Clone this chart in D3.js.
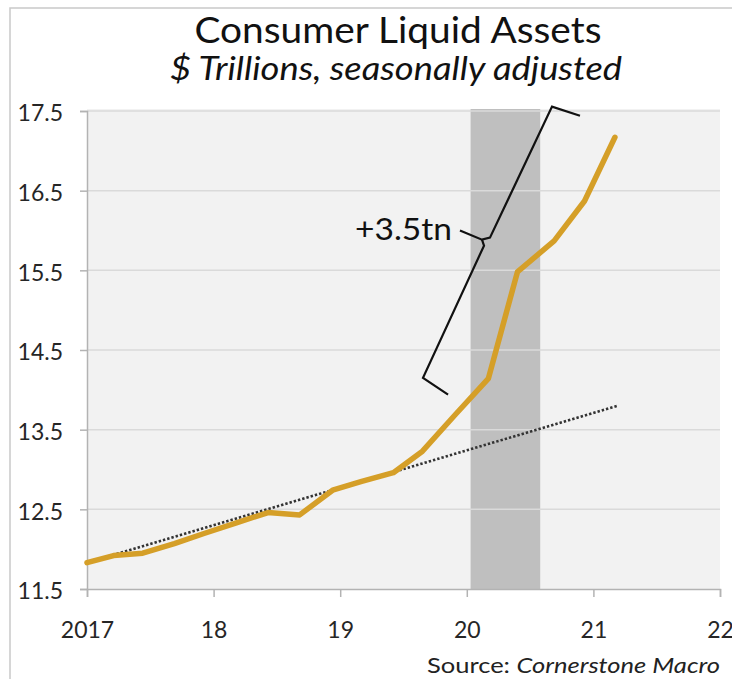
<!DOCTYPE html>
<html>
<head>
<meta charset="utf-8">
<script src="https://cdn.jsdelivr.net/npm/d3@7"></script>
<style>
  html, body { margin: 0; padding: 0; background: #fff; }
  svg { display: block; }
  text { font-family: Lato, "Open Sans", sans-serif; }
</style>
</head>
<body>
<svg id="chart" width="732" height="679"></svg>
<script>
// ---- Data ----
const dates = [2017.00, 2017.21, 2017.44, 2017.69, 2017.93, 2018.18, 2018.43, 2018.68, 2018.94,
               2019.17, 2019.42, 2019.65, 2019.91, 2020.17, 2020.40, 2020.69, 2020.93, 2021.17];
const liquidAssets = [11.83, 11.92, 11.95, 12.07, 12.20, 12.33, 12.46, 12.43, 12.74,
                      12.85, 12.96, 13.23, 13.69, 14.14, 15.48, 15.87, 16.37, 17.17];
const trendDates = [2017.00, 2021.19];
const trendValues = [11.83, 13.80];
const recession = [2020.03, 2020.58];
const yTicks = [11.5, 12.5, 13.5, 14.5, 15.5, 16.5, 17.5];
const xTicks = [2017, 2018, 2019, 2020, 2021, 2022];
const xTickLabels = ["2017", "18", "19", "20", "21", "22"];
const annotationLabel = "+3.5tn";
// bracket drawn in data units (year, $tn)
const bracketUpper = [[2020.894, 17.44], [2020.673, 17.555], [2020.183, 15.91], [2020.12, 15.885], [2019.946, 16.0]];
const bracketLower = [[2020.12, 15.885], [2020.136, 15.81], [2019.654, 14.15], [2019.852, 13.94]];

// ---- Layout ----
(function () {
const svg = d3.select("#chart");
const mLeft = 87, mRight = 720, mTop = 111, mBottom = 589;
const x = d3.scaleLinear().domain([2017, 2022]).range([mLeft, mRight]);
const y = d3.scaleLinear().domain([11.5, 17.5]).range([mBottom, mTop]);

// frame
svg.append("path").attr("d", `M10,679 L10,8 L732,8`)
  .attr("fill", "none").attr("stroke", "#c9c9c9").attr("stroke-width", 1.5);

// plot background
svg.append("rect").attr("x", mLeft).attr("y", mTop - 2)
  .attr("width", mRight - mLeft).attr("height", mBottom - mTop + 2)
  .attr("fill", "#f2f2f2");

// recession band
svg.append("rect").attr("x", x(recession[0])).attr("y", mTop - 2)
  .attr("width", x(recession[1]) - x(recession[0])).attr("height", mBottom - mTop + 2)
  .attr("fill", "#bfbfbf");

// gridlines
svg.append("g").selectAll("line").data(yTicks.slice(1)).join("line")
  .attr("x1", mLeft).attr("x2", mRight)
  .attr("y1", d => y(d)).attr("y2", d => y(d))
  .attr("stroke", "#dadada").attr("stroke-width", 1.5);

// axes
const yAxis = svg.append("g").attr("transform", `translate(${mLeft},0)`)
  .call(d3.axisLeft(y).tickValues(yTicks).tickFormat(d3.format(".1f")).tickSize(7).tickPadding(17));
const xAxis = svg.append("g").attr("transform", `translate(0,${mBottom})`)
  .call(d3.axisBottom(x).tickValues(xTicks).tickFormat((d, i) => xTickLabels[i]).tickSize(8).tickPadding(25));
[yAxis, xAxis].forEach(g => {
  g.select(".domain").attr("stroke", "#b3b3b3").attr("stroke-width", 1.5);
  g.selectAll(".tick line").attr("stroke", "#b3b3b3").attr("stroke-width", 1.5);
  g.selectAll("text").attr("fill", "#262626").attr("font-size", 23)
    .style("font-family", "Lato, 'Open Sans', sans-serif");
});
yAxis.selectAll("text").attr("dy", "0.42em");

// trend line (dotted)
const line = d3.line().x(d => x(d[0])).y(d => y(d[1]));
svg.append("path")
  .attr("d", line(trendDates.map((d, i) => [d, trendValues[i]])))
  .attr("fill", "none").attr("stroke", "#333").attr("stroke-width", 2.6)
  .attr("stroke-dasharray", "2.4,2");

// main series
svg.append("path")
  .attr("d", line(dates.map((d, i) => [d, liquidAssets[i]])))
  .attr("fill", "none").attr("stroke", "#d59f28").attr("stroke-width", 5.5)
  .attr("stroke-linejoin", "round").attr("stroke-linecap", "round");

// bracket annotation
[bracketUpper, bracketLower].forEach(pts => {
  svg.append("path").attr("d", line(pts))
    .attr("fill", "none").attr("stroke", "#111").attr("stroke-width", 2.2)
    .attr("stroke-linejoin", "miter");
});
svg.append("text").attr("x", 452).attr("y", 240)
  .attr("text-anchor", "end").attr("font-size", 30).attr("fill", "#111")
  .attr("textLength", 97).attr("lengthAdjust", "spacingAndGlyphs")
  .text(annotationLabel);

// titles
svg.append("text").attr("x", 398).attr("y", 43).attr("text-anchor", "middle")
  .attr("font-size", 37).attr("fill", "#111")
  .attr("textLength", 407).attr("lengthAdjust", "spacingAndGlyphs")
  .text("Consumer Liquid Assets");
svg.append("text").attr("x", 396).attr("y", 80).attr("text-anchor", "middle")
  .attr("font-size", 33).attr("font-style", "italic").attr("fill", "#111")
  .attr("textLength", 452).attr("lengthAdjust", "spacingAndGlyphs")
  .text("$ Trillions, seasonally adjusted");

// source
const src = svg.append("text").attr("x", 427).attr("y", 673).attr("text-anchor", "start")
  .attr("font-size", 21).attr("fill", "#222")
  .attr("textLength", 293).attr("lengthAdjust", "spacingAndGlyphs");
src.append("tspan").text("Source: ");
src.append("tspan").attr("font-style", "italic").text("Cornerstone Macro");
})();
</script>
</body>
</html>
